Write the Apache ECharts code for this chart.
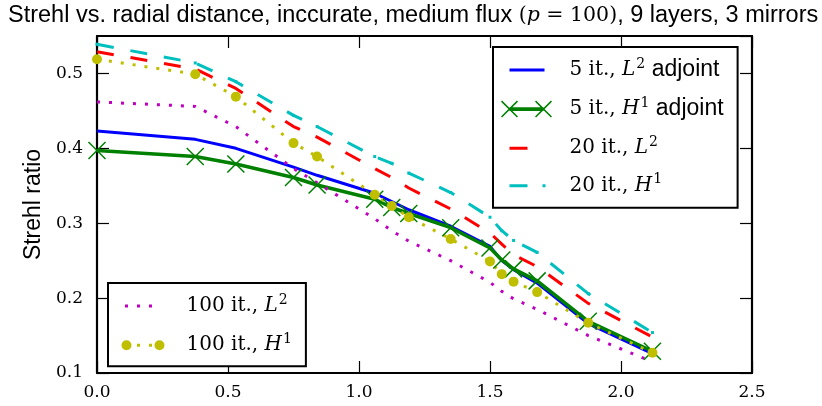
<!DOCTYPE html>
<html>
<head>
<meta charset="utf-8">
<script src="https://cdn.jsdelivr.net/npm/echarts@6/dist/echarts.min.js"></script>
<style>
html,body{margin:0;padding:0;background:#fff;}
#chart{width:822px;height:406px;}
</style>
</head>
<body>
<div id="chart"></div>
<script>
// ---- data ----
const radialDistance = [0, 0.375, 0.53, 0.75, 0.84, 1.06, 1.125, 1.19, 1.35, 1.5, 1.545, 1.59, 1.68, 1.875, 2.12];
const it5L2Adjoint  = [0.423, 0.412, 0.400, 0.375, 0.364, 0.340, 0.329, 0.318, 0.296, 0.269, 0.250, 0.238, 0.220, 0.166, 0.126];
const it5H1Adjoint  = [0.397, 0.389, 0.379, 0.361, 0.351, 0.332, 0.321, 0.313, 0.294, 0.267, 0.251, 0.239, 0.223, 0.169, 0.129];
const it20L2        = [0.529, 0.506, 0.480, 0.429, 0.415, 0.373, 0.361, 0.347, 0.319, 0.287, 0.272, 0.258, 0.242, 0.193, 0.148];
const it20H1        = [0.539, 0.514, 0.489, 0.444, 0.429, 0.389, 0.380, 0.367, 0.341, 0.308, 0.290, 0.277, 0.261, 0.206, 0.154];
const it100L2       = [0.462, 0.456, 0.429, 0.373, 0.354, 0.306, 0.290, 0.276, 0.250, 0.221, 0.209, 0.199, 0.185, 0.150, 0.115];
const it100H1       = [0.519, 0.499, 0.469, 0.407, 0.389, 0.338, 0.323, 0.308, 0.279, 0.249, 0.232, 0.222, 0.208, 0.167, 0.127];

const seriesNames = ['5 it., L2 adjoint', '5 it., H1 adjoint', '20 it., L2', '20 it., H1', '100 it., L2', '100 it., H1'];
const xTickValues = [0.0, 0.5, 1.0, 1.5, 2.0, 2.5];
const yTickValues = [0.1, 0.2, 0.3, 0.4, 0.5];
const yAxisTop = 0.55;

const titleText = '{s|Strehl vs. radial distance, inccurate, medium flux }{r|(}{i|p}{r| = 100)}{s|, 9 layers, 3 mirrors}';
const yAxisName = 'Strehl ratio';

// legend label rich strings
const legendRich = {
  '5 it., L2 adjoint': '{r|5 it., }{i|L}{sup|2}{s| adjoint}',
  '5 it., H1 adjoint': '{r|5 it., }{i|H}{sup|1}{s| adjoint}',
  '20 it., L2': '{r|20 it., }{i|L}{sup|2}',
  '20 it., H1': '{r|20 it., }{i|H}{sup|1}',
  '100 it., L2': '{r|100 it., }{i|L}{sup|2}',
  '100 it., H1': '{r|100 it., }{i|H}{sup|1}'
};

// ---- legend icon glyphs (64 x 18 box) ----
const anchors = 'M0,0h0.01v0.01h-0.01Z M63.99,17.99h0.01v0.01h-0.01Z ';
function xMark(cx, cy, h, w) {
  return 'M' + (cx - h) + ',' + (cy - h + w) + 'L' + (cx - h + w) + ',' + (cy - h) + 'L' + (cx + h) + ',' + (cy + h - w) + 'L' + (cx + h - w) + ',' + (cy + h) + 'Z ' +
         'M' + (cx + h - w) + ',' + (cy - h) + 'L' + (cx + h) + ',' + (cy - h + w) + 'L' + (cx - h + w) + ',' + (cy + h) + 'L' + (cx - h) + ',' + (cy + h - w) + 'Z ';
}
function circ(cx, cy, r) {
  return 'M' + (cx - r) + ',' + cy + 'a' + r + ',' + r + ' 0 1,0 ' + (2 * r) + ',0a' + r + ',' + r + ' 0 1,0 ' + (-2 * r) + ',0Z ';
}
const icons = {
  '5 it., L2 adjoint': 'path://' + anchors + 'M9,7.5H44V10.5H9Z',
  '5 it., H1 adjoint': 'path://' + anchors + 'M9,7.2H43V10.8H9Z ' + xMark(9, 9, 8.5, 1.1) + xMark(43, 9, 8.5, 1.1),
  '20 it., L2': 'path://' + anchors + 'M9,7.5H27V10.5H9Z',
  '20 it., H1': 'path://' + anchors + 'M9,7.5H27V10.5H9Z M42,7.5H45V10.5H42Z',
  '100 it., L2': 'path://' + anchors + 'M7.5,7.5h3v3h-3Z M19.5,7.5h3v3h-3Z M31.5,7.5h3v3h-3Z',
  '100 it., H1': 'path://' + anchors + circ(9, 9, 5) + 'M19.5,7.5h3v3h-3Z M31.5,7.5h3v3h-3Z ' + circ(42, 9, 5)
};

const serifFont = 'DejaVu Serif';
const sansFont = 'Liberation Sans';
const richStyles = {
  r: {fontFamily: serifFont, fontSize: 20, color: '#000', lineHeight: 18},
  i: {fontFamily: serifFont, fontStyle: 'italic', fontSize: 20, color: '#000', lineHeight: 18},
  sup: {fontFamily: serifFont, fontSize: 14, color: '#000', lineHeight: 2, verticalAlign: 'top', padding: [-4, 0, 0, 1]},
  s: {fontFamily: sansFont, fontSize: 23, color: '#000', lineHeight: 18}
};

const pairs = ys => radialDistance.map((x, i) => [x, ys[i]]);
const fmt = v => v.toFixed(1);

const axisLineStyle = {color: '#000', width: 2.2};
const tickStyle = {color: '#000', width: 1.2};

function makeLegend(names, left, top, padding, gap) {
  return {
    orient: 'vertical', left: left, top: top, padding: padding, itemGap: gap,
    itemWidth: 64, itemHeight: 18, selectedMode: false,
    borderColor: '#000', borderWidth: 2, backgroundColor: '#fff', borderRadius: 0,
    itemStyle: {borderWidth: 0},
    data: names.map(n => ({name: n, icon: icons[n]})),
    formatter: n => legendRich[n],
    textStyle: {lineHeight: 18, rich: richStyles}
  };
}

const chart = echarts.init(document.getElementById('chart'), null, {renderer: 'canvas'});
chart.setOption({
  animation: false,
  backgroundColor: '#fff',
  title: {
    text: titleText, left: 8, top: 4, padding: 0,
    textStyle: {
      fontWeight: 'normal',
      lineHeight: 24,
      rich: {
        s: {fontFamily: sansFont, fontSize: 23.5, fontWeight: 'normal', color: '#000', lineHeight: 24},
        r: {fontFamily: serifFont, fontSize: 20.5, fontWeight: 'normal', color: '#000', lineHeight: 24},
        i: {fontFamily: serifFont, fontStyle: 'italic', fontWeight: 'normal', fontSize: 20.5, color: '#000', lineHeight: 24}
      }
    }
  },
  grid: {left: 97, right: 70, top: 36, bottom: 33, show: false},
  xAxis: [
    {type: 'value', position: 'bottom', min: xTickValues[0], max: xTickValues[xTickValues.length - 1], interval: xTickValues[1] - xTickValues[0],
     axisLine: {show: true, onZero: false, lineStyle: axisLineStyle},
     axisTick: {show: true, inside: true, length: 12, lineStyle: tickStyle},
     axisLabel: {formatter: fmt, fontFamily: serifFont, fontSize: 17, color: '#000', margin: 11},
     splitLine: {show: false}},
    {type: 'value', position: 'top', min: xTickValues[0], max: xTickValues[xTickValues.length - 1], interval: xTickValues[1] - xTickValues[0],
     axisLine: {show: true, onZero: false, lineStyle: axisLineStyle},
     axisTick: {show: true, inside: true, length: 12, lineStyle: tickStyle},
     axisLabel: {show: false}, splitLine: {show: false}}
  ],
  yAxis: [
    {type: 'value', position: 'left', min: yTickValues[0], max: yAxisTop, interval: 0.1,
     name: yAxisName, nameLocation: 'middle', nameGap: 50, nameRotate: 90,
     nameTextStyle: {fontFamily: sansFont, fontSize: 23, color: '#000'},
     axisLine: {show: true, onZero: false, lineStyle: axisLineStyle},
     axisTick: {show: true, inside: true, length: 12, lineStyle: tickStyle},
     axisLabel: {formatter: fmt, fontFamily: serifFont, fontSize: 17, color: '#000', margin: 14, showMaxLabel: false},
     splitLine: {show: false}},
    {type: 'value', position: 'right', min: yTickValues[0], max: yAxisTop, interval: 0.1,
     axisLine: {show: true, onZero: false, lineStyle: axisLineStyle},
     axisTick: {show: true, inside: true, length: 12, lineStyle: tickStyle},
     axisLabel: {show: false}, splitLine: {show: false}}
  ],
  legend: [
    makeLegend(seriesNames.slice(0, 4), 493, 47, [10, 14, 12, 7.5], 14.6),
    makeLegend(seriesNames.slice(4), 108, 283, [10, 14, 11, 9.5], 16.2)
  ],
  series: [
    {name: seriesNames[0], type: 'line', data: pairs(it5L2Adjoint), symbol: 'none', silent: true,
     lineStyle: {color: '#0000ff', width: 3}, itemStyle: {color: '#0000ff'}},
    {name: seriesNames[1], type: 'line', data: pairs(it5H1Adjoint), silent: true,
     symbol: 'path://M0,0L10,10M10,0L0,10', symbolSize: 17,
     lineStyle: {color: '#008000', width: 3.5}, itemStyle: {color: '#008000', borderColor: '#008000', borderWidth: 1.5}},
    {name: seriesNames[2], type: 'line', data: pairs(it20L2), symbol: 'none', silent: true,
     lineStyle: {color: '#ff0000', width: 3, type: [17, 17]}, itemStyle: {color: '#ff0000'}},
    {name: seriesNames[3], type: 'line', data: pairs(it20H1), silent: true,
     symbol: 'rect', symbolSize: 3,
     lineStyle: {color: '#00bfbf', width: 3, type: [17, 17]}, itemStyle: {color: '#00bfbf'}},
    {name: seriesNames[4], type: 'line', data: pairs(it100L2), symbol: 'none', silent: true,
     lineStyle: {color: '#bf00bf', width: 3, type: [3, 9]}, itemStyle: {color: '#bf00bf'}},
    {name: seriesNames[5], type: 'line', data: pairs(it100H1), silent: true,
     symbol: 'circle', symbolSize: 10,
     lineStyle: {color: '#bfbf00', width: 3, type: [3, 9]}, itemStyle: {color: '#bfbf00'}}
  ]
});
</script>
</body>
</html>
